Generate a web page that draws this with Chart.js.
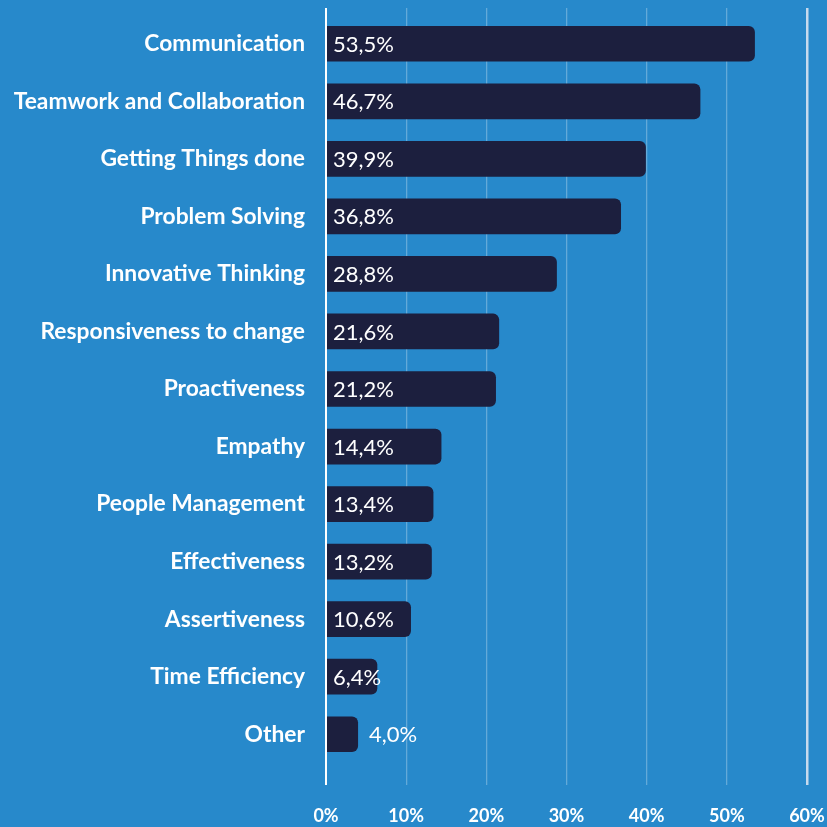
<!DOCTYPE html>
<html>
<head>
<meta charset="utf-8">
<script src="https://cdn.jsdelivr.net/npm/chart.js@4.4.0/dist/chart.umd.min.js"></script>
<style>
  html, body { margin: 0; padding: 0; background: #2789cb; }
  #wrap { width: 827px; height: 827px; }
</style>
</head>
<body>
<div id="wrap"><canvas id="skillsChart"></canvas></div>
<script>
const skills = [
    "Communication", "Teamwork and Collaboration", "Getting Things done", "Problem Solving",
    "Innovative Thinking", "Responsiveness to change", "Proactiveness", "Empathy",
    "People Management", "Effectiveness", "Assertiveness", "Time Efficiency", "Other"
];
const shares = [53.5, 46.7, 39.9, 36.8, 28.8, 21.6, 21.2, 14.4, 13.4, 13.2, 10.6, 6.4, 4.0];
const xTicks = [0, 10, 20, 30, 40, 50, 60];

const barColor = "#1c1f3e";
const gridColor = "rgba(255, 255, 255, 0.28)";

function fmt(v) {
    return v.toFixed(1).replace(".", ",") + "%";
}

function lineColor(ctx) {
    const v = ctx.tick ? ctx.tick.value : null;
    if (v === 0) return "#ffffff";
    if (v === 60) return "#c6daee";
    return gridColor;
}
function lineWidth(ctx) {
    const v = ctx.tick ? ctx.tick.value : null;
    if (v === 0) return 2;
    if (v === 60) return 2.5;
    return 1.3;
}

// value labels: inside the bar at the start, or just after it when it does not fit
const valueLabels = {
    id: "valueLabels",
    afterDatasetsDraw(chart) {
        const ctx = chart.ctx;
        const meta = chart.getDatasetMeta(0);
        ctx.save();
        ctx.font = "400 22px Lato";
        ctx.fillStyle = "#ffffff";
        ctx.textBaseline = "middle";
        ctx.textAlign = "left";
        meta.data.forEach((bar, i) => {
            const text = fmt(shares[i]);
            const w = ctx.measureText(text).width;
            let x = bar.base + 6;
            if (x + w > bar.x + 4) x = bar.x + 11;
            ctx.fillText(text, x, bar.y + 1);
        });
        ctx.restore();
    }
};

new Chart(document.getElementById("skillsChart"), {
    type: "bar",
    data: {
        labels: skills,
        datasets: [{
            data: shares,
            backgroundColor: barColor,
            borderRadius: 6,
            borderSkipped: "start",
            barPercentage: 0.62,
            categoryPercentage: 1
        }]
    },
    plugins: [valueLabels],
    options: {
        indexAxis: "y",
        responsive: true,
        maintainAspectRatio: false,
        animation: false,
        layout: { padding: { top: 8, right: 20, bottom: 0, left: 0 } },
        plugins: {
            legend: { display: false },
            tooltip: { enabled: false }
        },
        scales: {
            x: {
                position: "bottom",
                min: 0,
                max: 60,
                afterBuildTicks: (scale) => { scale.ticks = xTicks.map(v => ({ value: v })); },
                afterFit: (scale) => {
                    scale.height = 64;
                    scale.paddingLeft = 0;
                    scale.paddingRight = 0;
                },
                border: { display: false },
                grid: {
                    color: lineColor,
                    lineWidth: lineWidth,
                    tickColor: lineColor,
                    tickWidth: lineWidth,
                    tickLength: 22
                },
                ticks: {
                    color: "#ffffff",
                    font: { family: "Lato", weight: "bold", size: 18 },
                    padding: 20,
                    callback: (v) => v + "%"
                }
            },
            xTop: {
                position: "top",
                axis: "x",
                min: 0,
                max: 60,
                afterBuildTicks: (scale) => { scale.ticks = xTicks.map(v => ({ value: v })); },
                afterFit: (scale) => {
                    scale.height = 7;
                    scale.paddingLeft = 0;
                    scale.paddingRight = 0;
                },
                border: { display: false },
                grid: {
                    drawOnChartArea: false,
                    color: lineColor,
                    lineWidth: lineWidth,
                    tickColor: lineColor,
                    tickWidth: lineWidth,
                    tickLength: 7
                },
                ticks: { display: false }
            },
            y: {
                afterFit: (scale) => {
                    scale.width = 326;
                    scale.paddingTop = 0;
                    scale.paddingBottom = 0;
                },
                border: { display: false },
                grid: { display: false, drawTicks: false },
                ticks: {
                    color: "#ffffff",
                    font: { family: "Lato", weight: "bold", size: 22.8 },
                    padding: 21
                }
            }
        }
    }
});
</script>
</body>
</html>
